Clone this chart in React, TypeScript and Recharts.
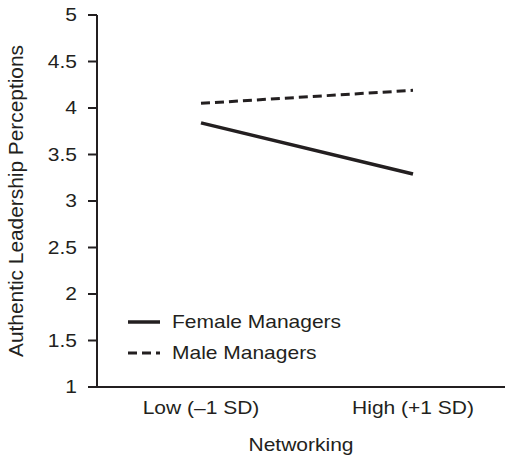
import { LineChart, Line, XAxis, YAxis, Legend } from 'recharts';

// values
const networkingLevels = ['Low (–1 SD)', 'High (+1 SD)'];
const femaleManagers = [3.84, 3.29];
const maleManagers = [4.05, 4.19];
const yTicks = [1, 1.5, 2, 2.5, 3, 3.5, 4, 4.5, 5];

const INK = '#231f20';
const FONT = '"Liberation Sans", Arial, Helvetica, sans-serif';

const chartData = networkingLevels.map((level, i) => ({
  level,
  female: femaleManagers[i],
  male: maleManagers[i],
}));

// text in the figure is drawn a bit wide, so stretch it horizontally
const WideText = ({ x, y, anchor, children, rotate }: any) => (
  <g transform={`translate(${x},${y})${rotate ? ` rotate(${rotate})` : ''} scale(1.2,1)`}>
    <text x={0} y={0} textAnchor={anchor} fill={INK} fontSize={17.5} fontFamily={FONT}>
      {children}
    </text>
  </g>
);

const YTick = ({ x, y, payload }: any) => (
  <g transform={`translate(${x},${y + 6}) scale(1.2,1)`}>
    <text x={0} y={0} textAnchor="end" fill={INK} fontSize={17.5} fontFamily={FONT}>
      {String(payload.value)}
    </text>
  </g>
);

const XTick = ({ x, y, payload }: any) => (
  <WideText x={x} y={y} anchor="middle">{payload.value}</WideText>
);

const YLabel = ({ viewBox }: any) => (
  <g transform={`translate(${viewBox.x + 23},${viewBox.y + viewBox.height / 2}) rotate(-90) scale(1.07,1)`}>
    <text x={0} y={0} textAnchor="middle" fill={INK} fontSize={19.5} fontFamily={FONT}>
      Authentic Leadership Perceptions
    </text>
  </g>
);

const XLabel = ({ viewBox }: any) => (
  <WideText x={viewBox.x + viewBox.width / 2} y={viewBox.y + 64} anchor="middle">
    Networking
  </WideText>
);

const LegendBox = ({ payload }: any) => (
  <svg width={240} height={70} style={{ display: 'block' }}>
    {(payload || []).map((entry: any, i: number) => {
      const cy = 22 + i * 31;
      return (
        <g key={entry.value}>
          <line
            x1={8}
            x2={40}
            y1={cy}
            y2={cy}
            stroke={INK}
            strokeWidth={entry.payload.strokeWidth}
            strokeDasharray={entry.payload.strokeDasharray}
          />
          <WideText x={52} y={cy + 6} anchor="start">{entry.value}</WideText>
        </g>
      );
    })}
  </svg>
);

export default function App() {
  return (
    <div style={{ position: 'absolute', left: 0, top: 0, background: '#fff' }}>
      <LineChart width={508} height={457} data={chartData} margin={{ top: 15, right: 3, bottom: 0, left: 0 }}>
        <XAxis
          dataKey="level"
          height={70}
          padding={{ left: 104, right: 92 }}
          axisLine={{ stroke: INK, strokeWidth: 2 }}
          tickLine={false}
          tickSize={0}
          tickMargin={27}
          tick={<XTick />}
          label={<XLabel />}
        />
        <YAxis
          width={97}
          domain={[1, 5]}
          ticks={yTicks}
          allowDecimals
          axisLine={{ stroke: INK, strokeWidth: 2 }}
          tickLine={{ stroke: INK, strokeWidth: 2 }}
          tickSize={9}
          tickMargin={11}
          tick={<YTick />}
          label={<YLabel />}
        />
        <Legend
          layout="vertical"
          align="center"
          verticalAlign="middle"
          content={<LegendBox />}
          wrapperStyle={{ left: 120, top: 300, width: 240, height: 70 }}
        />
        <Line
          name="Female Managers"
          dataKey="female"
          stroke={INK}
          strokeWidth={3.5}
          dot={false}
          activeDot={false}
          isAnimationActive={false}
        />
        <Line
          name="Male Managers"
          dataKey="male"
          stroke={INK}
          strokeWidth={3}
          strokeDasharray="9 5"
          dot={false}
          activeDot={false}
          isAnimationActive={false}
        />
      </LineChart>
    </div>
  );
}
